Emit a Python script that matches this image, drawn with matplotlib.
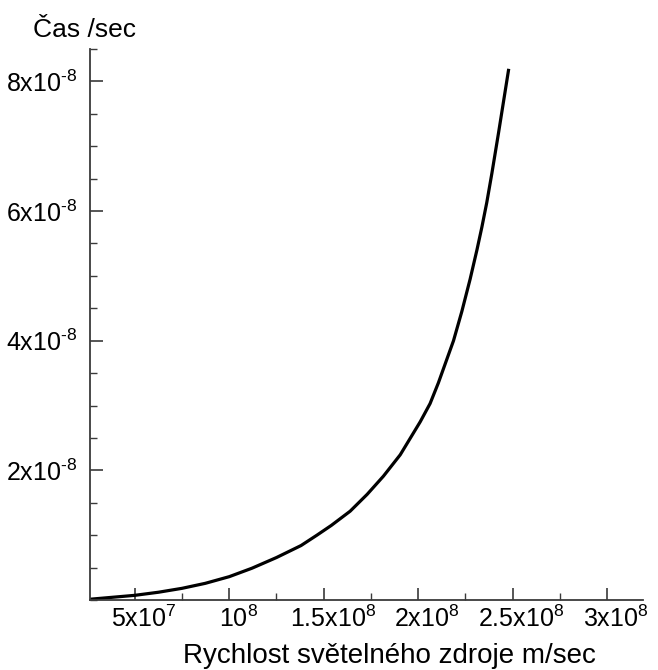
import matplotlib
matplotlib.use("Agg")
import matplotlib.pyplot as plt
from matplotlib.ticker import MultipleLocator, FixedLocator
from matplotlib.transforms import ScaledTranslation

plt.rcParams['font.family'] = ['Liberation Sans', 'DejaVu Sans']
plt.rcParams['mathtext.fontset'] = 'custom'
plt.rcParams['mathtext.rm'] = 'Liberation Sans'
plt.rcParams['mathtext.it'] = 'Liberation Sans'

# Data (speed in m/s, time in s)
speed = [2.56e7, 5.0e7, 6.26e7, 7.5e7, 8.73e7, 1.0e8, 1.12e8, 1.25e8, 1.38e8, 1.464e8,
         1.54e8, 1.64e8, 1.73e8, 1.816e8, 1.905e8, 2.011e8, 2.063e8, 2.107e8, 2.187e8,
         2.231e8, 2.275e8, 2.311e8, 2.337e8, 2.363e8, 2.39e8, 2.425e8, 2.478e8]
time = [0.01e-8, 0.072e-8, 0.12e-8, 0.18e-8, 0.257e-8, 0.36e-8, 0.49e-8, 0.655e-8, 0.84e-8, 1.0e-8,
        1.15e-8, 1.37e-8, 1.63e-8, 1.91e-8, 2.24e-8, 2.75e-8, 3.03e-8, 3.35e-8, 4.0e-8,
        4.45e-8, 4.95e-8, 5.4e-8, 5.75e-8, 6.13e-8, 6.58e-8, 7.2e-8, 8.17e-8]

x_ticks = [5e7, 1e8, 1.5e8, 2e8, 2.5e8, 3e8]
x_labels = [r'5x10$^{7}$', r'10$^{8}$', r'1.5x10$^{8}$', r'2x10$^{8}$', r'2.5x10$^{8}$', r'3x10$^{8}$']
y_ticks = [2e-8, 4e-8, 6e-8, 8e-8]
y_labels = [r'2x10$^{\text{-}8}$', r'4x10$^{\text{-}8}$', r'6x10$^{\text{-}8}$', r'8x10$^{\text{-}8}$']

W, H = 658, 670
fig = plt.figure(figsize=(W/100, H/100), dpi=100)
ax = fig.add_axes([90/W, 70/H, (643-90)/W, (600-49)/H])

ax.plot(speed, time, color='black', lw=2.3, solid_joinstyle='round')

ax.set_xlim(2.63e7, 3.19e8)
ax.set_ylim(0, 8.5e-8)

for s in ['top', 'right']:
    ax.spines[s].set_visible(False)
for s in ['left', 'bottom']:
    ax.spines[s].set_color('#3a3a3a')
    ax.spines[s].set_linewidth(1.3)

ax.xaxis.set_major_locator(FixedLocator(x_ticks))
ax.set_xticklabels(x_labels)
ax.xaxis.set_minor_locator(MultipleLocator(2.5e7))
ax.yaxis.set_major_locator(FixedLocator(y_ticks))
ax.set_yticklabels(y_labels)
ax.yaxis.set_minor_locator(MultipleLocator(0.5e-8))

ax.tick_params(which='major', direction='in', length=9, width=1.2, color='#3a3a3a',
               labelsize=18)
ax.tick_params(which='minor', direction='in', length=5, width=1.0, color='#3a3a3a')
ax.tick_params(axis='x', which='major', pad=4)
ax.tick_params(axis='y', which='major', pad=9)

offset = ScaledTranslation(9/100, 0, fig.dpi_scale_trans)
for lab in ax.get_xticklabels():
    lab.set_transform(lab.get_transform() + offset)

fig.text(183/W, 1 - 663/H, 'Rychlost světelného zdroje m/sec', fontsize=20,
         ha='left', va='baseline')
fig.text(33/W, 1 - 37/H, 'Čas /sec', fontsize=19, ha='left', va='baseline')

fig.savefig('out.png', dpi=100, facecolor='white')
